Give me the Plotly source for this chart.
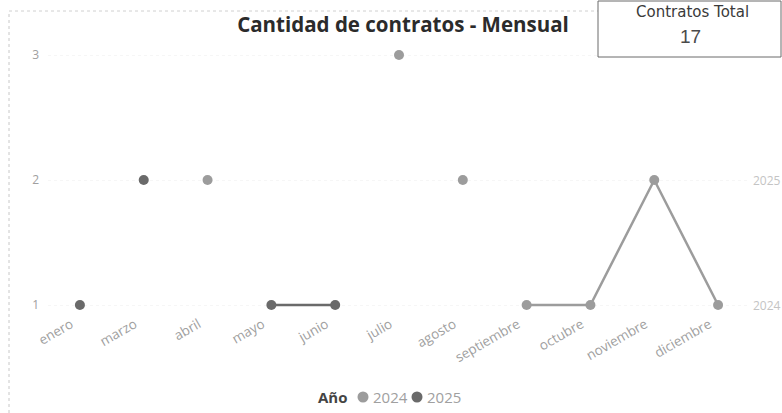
import plotly.graph_objects as go

# ---- data ----
meses = ["enero", "marzo", "abril", "mayo", "junio", "julio", "agosto",
         "septiembre", "octubre", "noviembre", "diciembre"]
anio_2024 = [None, None, 2, None, None, 3, 2, 1, 1, 2, 1]
anio_2025 = [1, 2, None, 1, 1, None, None, None, None, None, None]
# connected segments (points with same id are joined by a line)
seg_2024 = [None, None, 0, None, None, 1, 2, 3, 3, 3, 3]
seg_2025 = [0, 1, None, 2, 2, None, None, None, None, None, None]
series_names = ["2024", "2025"]
series_colors = ["#9c9c9c", "#6a6a6a"]
end_label_y = [1, 2]
total_contratos = 17

FONT = "Segoe UI, Open Sans, Noto Sans, sans-serif"

# plot-area pixel geometry helpers
L, R, T, B = 48, 750, 50, 310


def px(x):
    return (x - L) / (R - L)


def py(y):
    return (B - y) / (B - T)


def build_xy(values, segs):
    xs, ys = [], []
    prev = None
    for m, v, s in zip(meses, values, segs):
        if v is None:
            continue
        if prev is not None and s != prev:
            xs.append(m)
            ys.append(None)
        xs.append(m)
        ys.append(v)
        prev = s
    return xs, ys


fig = go.Figure()
for name, vals, segs, col in zip(series_names, [anio_2024, anio_2025],
                                 [seg_2024, seg_2025], series_colors):
    xs, ys = build_xy(vals, segs)
    fig.add_trace(go.Scatter(
        x=xs, y=ys, name=name, mode="lines+markers",
        line=dict(color=col, width=2.5),
        marker=dict(color=col, size=10),
        connectgaps=False, showlegend=False,
    ))

fig.update_layout(
    width=782, height=413,
    margin=dict(l=L, r=782 - R, t=T, b=413 - B),
    paper_bgcolor="white", plot_bgcolor="white",
    font=dict(family=FONT, color="#9a9a9a", size=11),
    title=dict(text="<b>Cantidad de contratos - Mensual</b>",
               xref="container", x=403 / 782, xanchor="center",
               yref="container", y=1 - 25 / 413, yanchor="middle",
               font=dict(family=FONT, size=20.5, color="#2b2b2b")),
    showlegend=False,
    xaxis=dict(type="category", categoryorder="array", categoryarray=meses,
               range=[-0.5, len(meses) - 0.5], tickangle=-30,
               showgrid=False, zeroline=False, showline=False, ticks="",
               automargin=False, ticklabelshift=-9, ticklabelstandoff=3,
               tickfont=dict(size=13.5, color="#a0a0a0")),
    yaxis=dict(range=[0.96, 3.04], tickvals=[1, 2, 3], showgrid=True,
               gridcolor="#f6f6f6", griddash="dot", zeroline=False,
               showline=False, ticks="", ticklabelstandoff=8, automargin=False,
               tickfont=dict(size=12, color="#a0a0a0")),
)

# series end labels on the right
for name, yv in zip(series_names, end_label_y):
    fig.add_annotation(xref="paper", yref="y", x=1.0, y=yv, xanchor="left",
                       xshift=1, text=name, showarrow=False,
                       font=dict(size=12, color="#c4c4c4"))

# custom legend
LEG_Y = 397
fig.add_annotation(xref="paper", yref="paper", x=px(333), y=py(LEG_Y),
                   text="<b>Año</b>", showarrow=False, xanchor="center", yanchor="middle",
                   font=dict(family=FONT, size=15, color="#444444"))
for name, col, mx in zip(series_names, series_colors, [363, 417]):
    fig.add_shape(type="circle", xref="paper", yref="paper",
                  xsizemode="pixel", ysizemode="pixel",
                  xanchor=px(mx), yanchor=py(LEG_Y),
                  x0=-5.5, x1=5.5, y0=-5.5, y1=5.5,
                  fillcolor=col, line=dict(width=0))
    fig.add_annotation(xref="paper", yref="paper", x=px(mx + 8), y=py(LEG_Y),
                       text=name, showarrow=False, xanchor="left", yanchor="middle",
                       font=dict(family=FONT, size=15, color="#a0a0a0"))

# outer dotted frame (left & top)
fig.add_shape(type="line", xref="paper", yref="paper",
              x0=px(9), x1=px(9), y0=py(413), y1=py(11),
              line=dict(color="#c8c8c8", width=1, dash="dot"))
fig.add_shape(type="line", xref="paper", yref="paper",
              x0=px(9), x1=px(598), y0=py(11), y1=py(11),
              line=dict(color="#d0d0d0", width=1, dash="dot"))

# KPI card
fig.add_shape(type="rect", xref="paper", yref="paper",
              x0=px(598), x1=px(781), y0=py(57), y1=py(1),
              line=dict(color="#6a6a6a", width=1), fillcolor="white")
fig.add_annotation(xref="paper", yref="paper", x=px(692), y=py(12),
                   text="Contratos Total", showarrow=False,
                   xanchor="center", yanchor="middle",
                   font=dict(family="DejaVu Sans, Verdana, sans-serif", size=15, color="#3a3a3a"))
fig.add_annotation(xref="paper", yref="paper", x=px(690), y=py(37),
                   text=str(total_contratos), showarrow=False,
                   xanchor="center", yanchor="middle",
                   font=dict(family="Liberation Sans, Arial, sans-serif", size=19, color="#4a4a4a"))

fig.write_html("out.html", config={"displayModeBar": False},
               post_script="document.body.style.margin='0px';")
